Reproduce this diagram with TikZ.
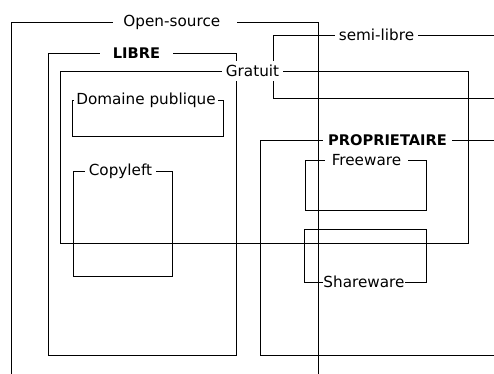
\documentclass[tikz,border=0pt]{standalone}
\usepackage{fontspec}
\setmainfont{DejaVu Sans}
\usepackage{tikz}

\begin{document}
\begin{tikzpicture}[x=0.03cm, y=-0.03cm, line width=0.8pt,
    lbl/.style={fill=white, inner sep=0pt, minimum height=0.6cm, font=\fontsize{13}{15}\selectfont},
    blbl/.style={lbl, font=\fontsize{12.5}{15}\selectfont\bfseries}]

    \useasboundingbox (0,0) rectangle (494,374);

    \draw (11,374) -- (11,22) -- (318,22) -- (318,374);
    \draw (48,53) rectangle (236,355);
    \draw (60,71) rectangle (468,243);
    \draw (494,35) -- (273,35) -- (273,98) -- (494,98);
    \draw (494,140) -- (260,140) -- (260,355) -- (494,355);

    \draw (72,100) rectangle (223,136);
    \draw (73,171) rectangle (172,276);
    \draw (305,160) rectangle (426,210);
    \draw (304,229) rectangle (426,282);

    \node[lbl, anchor=west, inner xsep=0.3cm, text width=3.12cm, align=left] (opensource) at (113,22) {Open-source};
    \node[blbl, minimum width=2.19cm] (libre) at (136.5,53) {LIBRE};
    \node[lbl, minimum width=1.83cm] (gratuit) at (252.5,71) {Gratuit};
    \node[lbl, minimum width=4.32cm] (domaine) at (146,100) {Domaine publique};
    \node[lbl, minimum width=2.13cm] (copyleft) at (120.5,171) {Copyleft};
    \node[lbl, minimum width=2.49cm] (semilibre) at (376.5,35) {semi-libre};
    \node[blbl, minimum width=3.87cm] (proprietaire) at (387.5,140) {PROPRIETAIRE};
    \node[lbl, minimum width=2.49cm] (freeware) at (366.5,160) {Freeware};
    \node[lbl, minimum width=2.34cm] (shareware) at (364,282) {Shareware};

\end{tikzpicture}
\end{document}
